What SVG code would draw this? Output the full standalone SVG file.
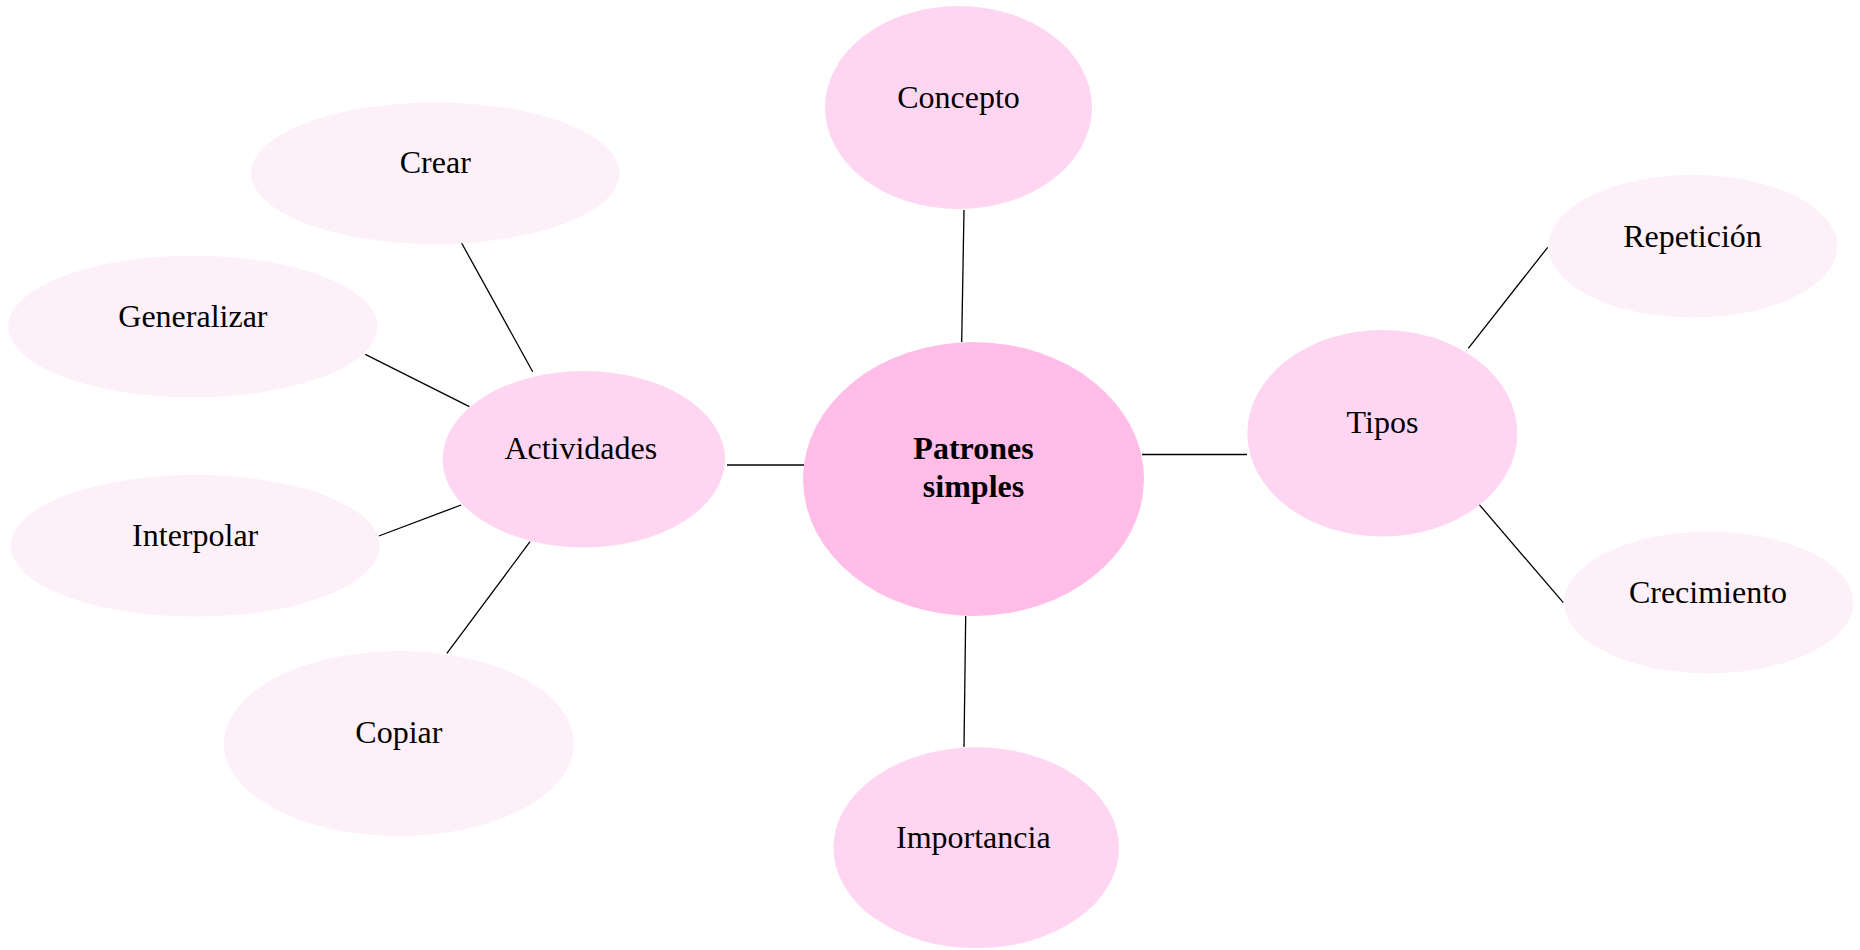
<svg xmlns="http://www.w3.org/2000/svg" width="1860" height="950" viewBox="0 0 1860 950">
  <style>
    .root { fill: #ffbde8; }
    .mid { fill: #ffd6f1; }
    .leaf { fill: #fdf0f8; }
    .lbl { font-family: "Liberation Serif", "Times New Roman", serif; font-size: 32px; fill: #000; text-anchor: middle; }
    .bold { font-weight: bold; }
    .edge { stroke: #000; stroke-width: 1.3; fill: none; }
  </style>
  <rect width="1860" height="950" fill="#ffffff"/>

  <!-- connectors -->
  <g id="connectors">
    <line class="edge" x1="727" y1="465" x2="805" y2="465"/>
    <line class="edge" x1="1142" y1="454.5" x2="1247" y2="454.5"/>
    <line class="edge" x1="964" y1="210" x2="961.7" y2="342"/>
    <line class="edge" x1="965.7" y1="616" x2="964" y2="747"/>
    <line class="edge" x1="461.2" y1="242.3" x2="532.7" y2="371.7"/>
    <line class="edge" x1="365.3" y1="354.3" x2="469.4" y2="406.7"/>
    <line class="edge" x1="378.8" y1="536" x2="461.1" y2="505"/>
    <line class="edge" x1="446.9" y1="653.3" x2="530" y2="541.7"/>
    <line class="edge" x1="1468.3" y1="348.3" x2="1547.7" y2="247.3"/>
    <line class="edge" x1="1477.3" y1="502.3" x2="1563.3" y2="602.7"/>
  </g>

  <!-- central topic -->
  <g id="node-patrones">
    <ellipse class="root" cx="973.5" cy="479" rx="170.5" ry="137"/>
    <text class="lbl bold" x="973.5" y="459">Patrones</text>
    <text class="lbl bold" x="973.5" y="497">simples</text>
  </g>

  <!-- first level -->
  <g id="node-concepto">
    <ellipse class="mid" cx="958.5" cy="107.5" rx="133.5" ry="101.5"/>
    <text class="lbl" x="958.5" y="108.3">Concepto</text>
  </g>
  <g id="node-importancia">
    <ellipse class="mid" cx="976.2" cy="847.8" rx="142.8" ry="100.5"/>
    <text class="lbl" x="973.3" y="848.3">Importancia</text>
  </g>
  <g id="node-tipos">
    <ellipse class="mid" cx="1382.3" cy="433.3" rx="135" ry="103.3"/>
    <text class="lbl" x="1382.5" y="433.3">Tipos</text>
  </g>
  <g id="node-actividades">
    <ellipse class="mid" cx="583.8" cy="459.2" rx="141.2" ry="88.2"/>
    <text class="lbl" x="580.8" y="459">Actividades</text>
  </g>

  <!-- second level: Tipos -->
  <g id="node-repeticion">
    <ellipse class="leaf" cx="1692.8" cy="246.2" rx="144.5" ry="71.2"/>
    <text class="lbl" x="1692.5" y="246.7">Repetición</text>
  </g>
  <g id="node-crecimiento">
    <ellipse class="leaf" cx="1708.7" cy="602.5" rx="144.7" ry="70.8"/>
    <text class="lbl" x="1708" y="602.7">Crecimiento</text>
  </g>

  <!-- second level: Actividades -->
  <g id="node-crear">
    <ellipse class="leaf" cx="435.3" cy="173.3" rx="184.3" ry="70.7"/>
    <text class="lbl" x="435.3" y="173.3">Crear</text>
  </g>
  <g id="node-generalizar">
    <ellipse class="leaf" cx="192.9" cy="326.5" rx="184.7" ry="70.8"/>
    <text class="lbl" x="192.9" y="327.3">Generalizar</text>
  </g>
  <g id="node-interpolar">
    <ellipse class="leaf" cx="195.2" cy="545.8" rx="184.5" ry="70.8"/>
    <text class="lbl" x="195.2" y="546">Interpolar</text>
  </g>
  <g id="node-copiar">
    <ellipse class="leaf" cx="398.9" cy="743.5" rx="175" ry="92.5"/>
    <text class="lbl" x="398.9" y="743.3">Copiar</text>
  </g>
</svg>
